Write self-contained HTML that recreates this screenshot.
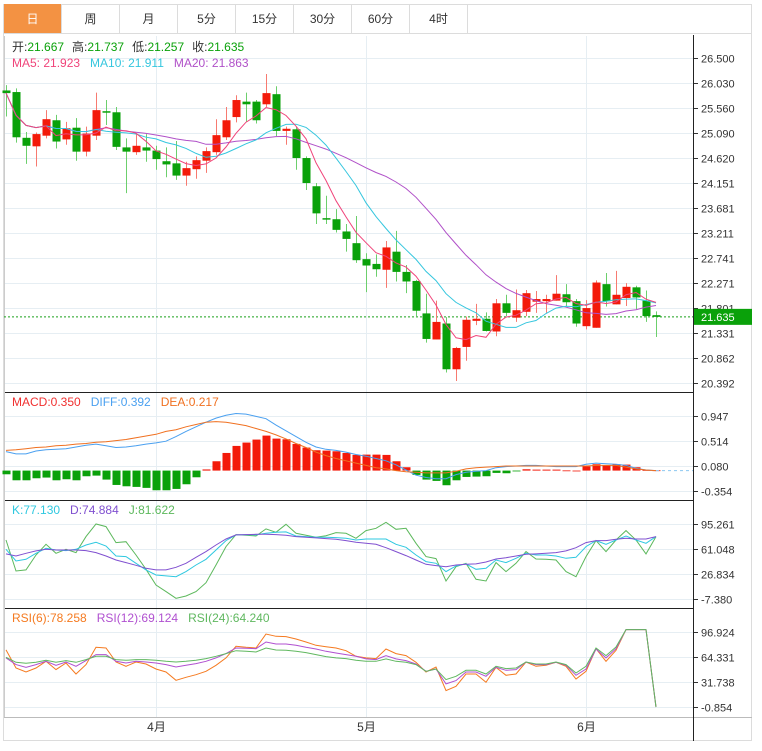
<!DOCTYPE html>
<html><head><meta charset="utf-8">
<style>
body{margin:0;background:#fff;width:762px;height:751px;overflow:hidden;font-family:"Liberation Sans","Noto Sans CJK SC",sans-serif;}
#frame{position:absolute;left:3px;top:4px;width:749px;height:737px;border:1px solid #dcdcdc;box-sizing:border-box;}
#hdr{position:absolute;left:3px;top:33px;width:749px;height:1px;background:#dcdcdc;}
.tab{position:absolute;top:4px;height:30px;width:58px;line-height:30px;text-align:center;font-size:12px;color:#333;border-right:1px solid #dcdcdc;border-bottom:1px solid #dcdcdc;box-sizing:border-box;}
.tab.on{background:#f39243;color:#fff;}
svg{position:absolute;left:0;top:0;}
svg text{font-family:"Liberation Sans","Noto Sans CJK SC",sans-serif;}
</style></head><body>
<div id="frame"></div>
<div id="hdr"></div>
<div class="tab on" style="left:4px">日</div>
<div class="tab" style="left:62px">周</div>
<div class="tab" style="left:120px">月</div>
<div class="tab" style="left:178px">5分</div>
<div class="tab" style="left:236px">15分</div>
<div class="tab" style="left:294px">30分</div>
<div class="tab" style="left:352px">60分</div>
<div class="tab" style="left:410px">4时</div>
<svg id="c" width="762" height="751" xmlns="http://www.w3.org/2000/svg"></svg>
<script>
const opens=[25.89,25.86,25.00,24.84,25.04,25.33,24.97,25.19,24.74,25.04,25.50,25.48,24.82,24.73,24.82,24.76,24.56,24.52,24.29,24.41,24.57,24.73,25.01,25.39,25.68,25.68,25.63,25.82,25.13,25.16,24.62,24.09,23.49,23.47,23.24,23.02,22.72,22.63,22.52,22.86,22.48,22.31,21.70,21.21,21.51,20.65,21.07,21.56,21.60,21.36,21.89,21.62,21.73,21.92,21.93,21.94,22.06,21.93,21.46,21.43,22.25,21.87,21.99,22.19,21.94,21.667];
const highs=[25.99,25.93,25.11,25.10,25.52,25.43,25.30,25.37,25.21,25.85,25.71,25.58,24.99,25.07,25.07,24.85,24.82,24.94,24.55,24.65,24.82,25.35,25.58,25.80,25.85,25.71,26.20,25.97,25.21,25.21,24.65,24.15,23.91,23.66,23.38,23.53,22.83,22.81,23.06,23.25,22.61,22.33,22.07,21.94,21.63,21.07,21.64,21.88,21.72,21.97,22.05,22.15,22.14,22.12,22.05,22.42,22.25,21.97,21.95,22.32,22.46,22.50,22.27,22.22,22.13,21.737];
const lows=[25.40,24.91,24.51,24.46,24.99,24.80,24.87,24.57,24.65,24.96,25.24,24.77,23.96,24.68,24.55,24.40,24.26,24.21,24.10,24.23,24.34,24.68,24.96,25.29,25.30,25.27,25.58,25.03,24.87,24.40,24.02,23.38,23.38,23.22,22.86,22.65,22.10,22.39,22.18,22.30,22.08,21.65,21.15,21.21,20.59,20.43,20.81,21.48,21.36,21.27,21.65,21.54,21.65,21.71,21.71,21.94,21.84,21.45,21.40,21.43,21.83,21.87,21.84,21.78,21.54,21.257];
const closes=[25.84,25.01,24.85,25.07,25.35,24.93,25.18,24.74,25.08,25.52,25.49,24.83,24.74,24.85,24.76,24.60,24.50,24.29,24.43,24.58,24.75,25.05,25.33,25.71,25.63,25.33,25.84,25.13,25.17,24.62,24.15,23.58,23.47,23.27,23.10,22.70,22.60,22.53,22.94,22.48,22.30,21.75,21.22,21.54,20.65,21.05,21.58,21.60,21.37,21.89,21.71,21.76,22.08,21.97,21.97,22.07,21.91,21.51,21.80,22.28,21.93,22.05,22.20,22.00,21.65,21.635];
const priceTicks=["26.500","26.030","25.560","25.090","24.620","24.151","23.681","23.211","22.741","22.271","21.801","21.331","20.862","20.392"];
const macdHist=[-0.064,-0.168,-0.168,-0.133,-0.121,-0.168,-0.150,-0.168,-0.098,-0.087,-0.156,-0.249,-0.272,-0.283,-0.300,-0.341,-0.341,-0.318,-0.237,-0.116,0.02,0.162,0.306,0.428,0.486,0.538,0.607,0.555,0.543,0.463,0.399,0.353,0.347,0.335,0.306,0.272,0.277,0.277,0.272,0.162,0.058,-0.075,-0.156,-0.179,-0.254,-0.168,-0.110,-0.104,-0.098,-0.040,-0.046,-0.012,0.023,0.017,0.017,0.017,0.003,0.0,0.075,0.110,0.092,0.110,0.104,0.058,0.01,0.005];
const diffVals=[0.33,0.29,0.29,0.34,0.36,0.37,0.38,0.41,0.44,0.46,0.43,0.40,0.41,0.43,0.46,0.48,0.51,0.59,0.68,0.76,0.84,0.91,0.96,0.99,0.98,0.94,0.90,0.79,0.69,0.59,0.49,0.41,0.37,0.35,0.32,0.28,0.25,0.21,0.17,0.10,0.01,-0.08,-0.12,-0.14,-0.14,-0.07,-0.03,-0.01,0.0,0.05,0.07,0.08,0.09,0.09,0.08,0.07,0.07,0.07,0.11,0.13,0.12,0.11,0.09,0.04,0.01,0.0];
const deaVals=[0.35,0.36,0.38,0.40,0.41,0.43,0.44,0.46,0.47,0.49,0.50,0.52,0.54,0.57,0.60,0.63,0.68,0.71,0.76,0.80,0.84,0.85,0.84,0.81,0.78,0.73,0.68,0.62,0.55,0.47,0.40,0.32,0.26,0.21,0.17,0.13,0.09,0.05,0.03,0.0,-0.02,-0.03,-0.04,-0.04,-0.04,-0.01,0.03,0.05,0.06,0.07,0.08,0.08,0.08,0.08,0.08,0.08,0.08,0.08,0.08,0.09,0.09,0.09,0.06,0.03,0.01,0.0];
const macdTicks=["0.947","0.514","0.080","-0.354"];
const kVals=[61.0,45.1,47.4,55.6,62.4,60.1,59.2,61.0,67.0,70.6,65.6,51.9,51.0,41.9,32.8,25.9,24.6,23.6,30.5,39.6,47.4,60.1,72.9,80.7,81.1,80.7,82.9,84.3,84.8,79.3,78.4,77.5,77.5,77.0,76.1,73.8,75.2,75.2,75.2,67.9,63.8,53.3,44.2,41.9,30.5,38.2,41.0,33.7,35.0,46.4,42.8,48.7,55.6,53.3,53.3,51.9,48.7,50.1,64.7,72.9,67.9,73.8,79.3,73.8,69.3,78.4];
const dVals=[54.7,51.9,55.6,58.8,61.0,60.1,60.1,60.1,59.2,56.5,51.9,46.4,42.8,39.1,35.0,32.8,32.8,36.4,41.9,50.1,57.9,67.0,75.2,80.7,81.1,81.6,81.6,81.1,80.2,78.4,77.5,76.6,75.7,74.7,72.9,70.6,69.3,67.9,63.3,57.9,52.4,46.4,40.5,38.7,37.3,39.6,40.5,41.0,43.7,47.8,49.6,51.9,54.2,54.7,55.6,56.5,58.8,63.3,70.2,72.9,72.9,74.7,76.1,75.2,75.2,78.4];
const jVals=[73.8,31.4,32.8,53.3,67.9,55.6,61.0,56.5,78.4,95.7,92.1,70.2,71.5,53.3,33.7,12.2,3.1,-6.0,-2.8,3.1,15.4,39.6,64.7,81.1,80.2,79.3,88.9,84.3,95.3,82.9,80.2,77.5,79.7,83.9,82.9,76.1,86.6,89.8,98.0,88.4,89.8,69.3,51.0,48.3,17.7,37.3,41.9,20.0,17.7,42.8,30.5,41.9,57.9,47.8,47.4,46.4,30.5,23.6,51.0,72.9,57.9,73.8,86.6,73.8,54.7,78.4];
const kdjTicks=["95.261","61.048","26.834","-7.380"];
const rsi6=[74.0,50.4,45.2,50.4,59.1,48.3,56.9,42.6,54.8,77.4,76.5,58.2,52.6,58.2,55.6,49.1,45.2,34.3,38.3,41.7,46.1,53.9,63.5,78.7,77.4,76.5,94.7,91.7,91.3,88.2,84.3,80.0,78.2,76.5,73.0,65.6,63.5,62.6,75.2,69.1,66.5,57.8,45.2,51.7,20.9,26.5,42.6,42.6,31.7,51.3,40.9,42.6,58.2,52.6,53.9,57.8,52.6,36.1,46.1,75.6,59.1,73.4,100.4,100.4,100.4,-0.4];
const rsi12=[63.5,54.8,51.3,54.8,59.1,53.9,58.2,52.6,60.0,67.8,67.8,59.1,56.9,59.1,58.2,56.9,54.8,51.7,53.9,56.1,59.1,63.5,69.1,76.5,76.1,75.6,84.3,81.7,81.7,80.0,77.4,75.2,72.2,70.0,67.8,65.6,62.2,61.3,66.5,62.2,60.0,55.6,46.1,49.1,29.6,33.9,45.2,45.2,39.6,51.3,47.4,48.3,58.2,54.8,54.8,57.8,53.9,40.9,49.1,75.2,63.5,75.6,100.4,100.4,100.4,-0.4];
const rsi24=[64.3,57.8,56.5,57.8,60.4,57.8,60.0,57.8,61.3,65.6,65.6,61.3,60.4,61.3,61.3,60.4,59.1,58.2,59.1,60.4,62.6,65.6,69.1,73.0,72.2,71.3,76.5,73.9,73.4,72.2,70.4,67.8,65.2,63.5,62.6,60.4,59.1,59.1,62.2,59.1,57.8,54.8,46.1,49.1,35.2,39.6,47.4,47.4,42.6,52.6,49.6,50.4,58.2,55.6,55.6,58.2,54.8,43.9,52.6,76.5,66.5,77.8,100.4,100.4,100.4,-0.4];
const rsiTicks=["96.924","64.331","31.738","-0.854"];
const monthLabels=["4月","5月","6月"];
const monthIdx=[15,36,58];

const svg=document.getElementById('c');
const NS='http://www.w3.org/2000/svg';
function mk(tag,attrs,parent){const e=document.createElementNS(NS,tag);for(const k in attrs)e.setAttribute(k,attrs[k]);(parent||svg).appendChild(e);return e;}
const xOf=i=>6+10*i;
function lin(v0,y0,v1,y1){return v=>y0+(v-v0)*(y1-y0)/(v1-v0);}
const yP=lin(26.5,58,20.392,383);
const yM=lin(0.947,416,-0.354,491);
const yK=lin(95.261,524.3,-7.380,599.3);
const yR=lin(96.924,632.3,-0.854,707.3);
const AX=693;
const GRID='#e6eef3';

monthIdx.forEach((mi,k)=>{
  const x=xOf(mi)+0.5;
  const g=mk('line',{x1:x,y1:36,x2:x,y2:717,stroke:GRID,'stroke-width':1});
  
  
  const t=mk('text',{x:x,y:731,'font-size':12,fill:'#333','text-anchor':'middle'});
  t.textContent=monthLabels[k];
  
  
});

function yAxis(ticks,yf,name){
  ticks.forEach(s=>{
    const y=Math.round(yf(parseFloat(s)))+0.5;
    const g=mk('line',{x1:4,y1:y,x2:AX,y2:y,stroke:GRID,'stroke-width':1});
    
    
    mk('line',{x1:AX,y1:y,x2:AX+5,y2:y,stroke:'#333','stroke-width':1});
    const t=mk('text',{x:AX+8,y:y+4,'font-size':11,fill:'#333'});
    t.textContent=s;
    
    
  });
}
yAxis(priceTicks,yP,'price');
yAxis(macdTicks,yM,'macd');
yAxis(kdjTicks,yK,'kdj');
yAxis(rsiTicks,yR,'rsi');

[392.5,500.5,608.5].forEach(y=>mk('line',{x1:4,y1:y,x2:AX,y2:y,stroke:'#222','stroke-width':1}));
mk('line',{x1:4,y1:717.5,x2:752,y2:717.5,stroke:'#bbb','stroke-width':1});
mk('line',{x1:AX+0.5,y1:35,x2:AX+0.5,y2:741,stroke:'#222','stroke-width':1});
mk('line',{x1:4.5,y1:36,x2:4.5,y2:717,stroke:'#ccc','stroke-width':1});

const lastY=yP(closes[closes.length-1]);
mk('line',{x1:4,y1:lastY,x2:AX,y2:lastY,stroke:'#1aa01a','stroke-width':1,'stroke-dasharray':'2,2'});
const pl=mk('rect',{x:AX+1,y:lastY-8,width:58,height:16,fill:'#0aa10a'});


const plt=mk('text',{x:AX+8,y:lastY+4,'font-size':11,fill:'#fff'});
plt.textContent=closes[closes.length-1].toFixed(3);

const RED='#f31a0a',GREEN='#0aa10a';
closes.forEach((c,i)=>{
  const o=opens[i],up=c>=o;
  const col=up?RED:GREEN, wc=up?'#f77a70':'#6ccf6c';
  const x=xOf(i);
  const w=mk('line',{x1:x+0.5,y1:yP(highs[i]),x2:x+0.5,y2:yP(lows[i]),stroke:wc,'stroke-width':1});
  
  
  const top=yP(Math.max(o,c)),bot=yP(Math.min(o,c));
  const r=mk('rect',{x:x-3.5,y:top,width:8,height:Math.max(1.5,bot-top),fill:col});
  
  
});

function ma(n){return closes.map((_,i)=>{const s=Math.max(0,i-n+1);let t=0;for(let j=s;j<=i;j++)t+=closes[j];return t/(i-s+1);});}
function line(vals,yf,color,name){
  const d=vals.map((v,i)=>(i?'L':'M')+xOf(i).toFixed(1)+','+yf(v).toFixed(1)).join('');
  const p=mk('path',{d:d,fill:'none',stroke:color,'stroke-width':1});
  
  
}
line(ma(20),yP,'#b050c8','ma20-line');
line(ma(10),yP,'#35c6de','ma10-line');
line(ma(5),yP,'#f0447a','ma5-line');

const z=yM(0);
macdHist.forEach((v,i)=>{
  const y=yM(v);
  const b=mk('rect',{x:xOf(i)-3.5,y:Math.min(y,z),width:8,height:Math.max(0.8,Math.abs(y-z)),fill:v>=0?RED:GREEN});
  
  
});
mk('line',{x1:xOf(65),y1:z,x2:AX,y2:z,stroke:'#8cc8f0','stroke-width':1,'stroke-dasharray':'3,3'});
line(diffVals,yM,'#4aa0f0','diff-line');
line(deaVals,yM,'#f07020','dea-line');

line(jVals,yK,'#5cb85c','j-line');
line(kVals,yK,'#2ec8e0','k-line');
line(dVals,yK,'#8050d0','d-line');

line(rsi6,yR,'#f57a20','rsi6-line');
line(rsi12,yR,'#b050d0','rsi12-line');
line(rsi24,yR,'#60b860','rsi24-line');

function legend(y,items,name){
  const t=mk('text',{x:12,y:y,'font-size':12});
  
  
  items.forEach(([s,col,dx])=>{const ts=mk('tspan',{fill:col,dx:dx||0},t);ts.textContent=s;});
}
legend(51,[['开:','#333'],['21.667','#0aa10a'],['高:','#333',8],['21.737','#0aa10a'],['低:','#333',8],['21.257','#0aa10a'],['收:','#333',8],['21.635','#0aa10a']],'ohlc-legend');
legend(67,[['MA5: 21.923','#f0447a'],['MA10: 21.911','#35c6de',10],['MA20: 21.863','#b050c8',10]],'ma-legend');
legend(406,[['MACD:0.350','#f03030'],['DIFF:0.392','#4aa0f0',10],['DEA:0.217','#f07020',10]],'macd-legend');
legend(514,[['K:77.130','#2ec8e0'],['D:74.884','#8050d0',10],['J:81.622','#5cb85c',10]],'kdj-legend');
legend(622,[['RSI(6):78.258','#f57a20'],['RSI(12):69.124','#b050d0',10],['RSI(24):64.240','#60b860',10]],'rsi-legend');
</script>
</body></html>
